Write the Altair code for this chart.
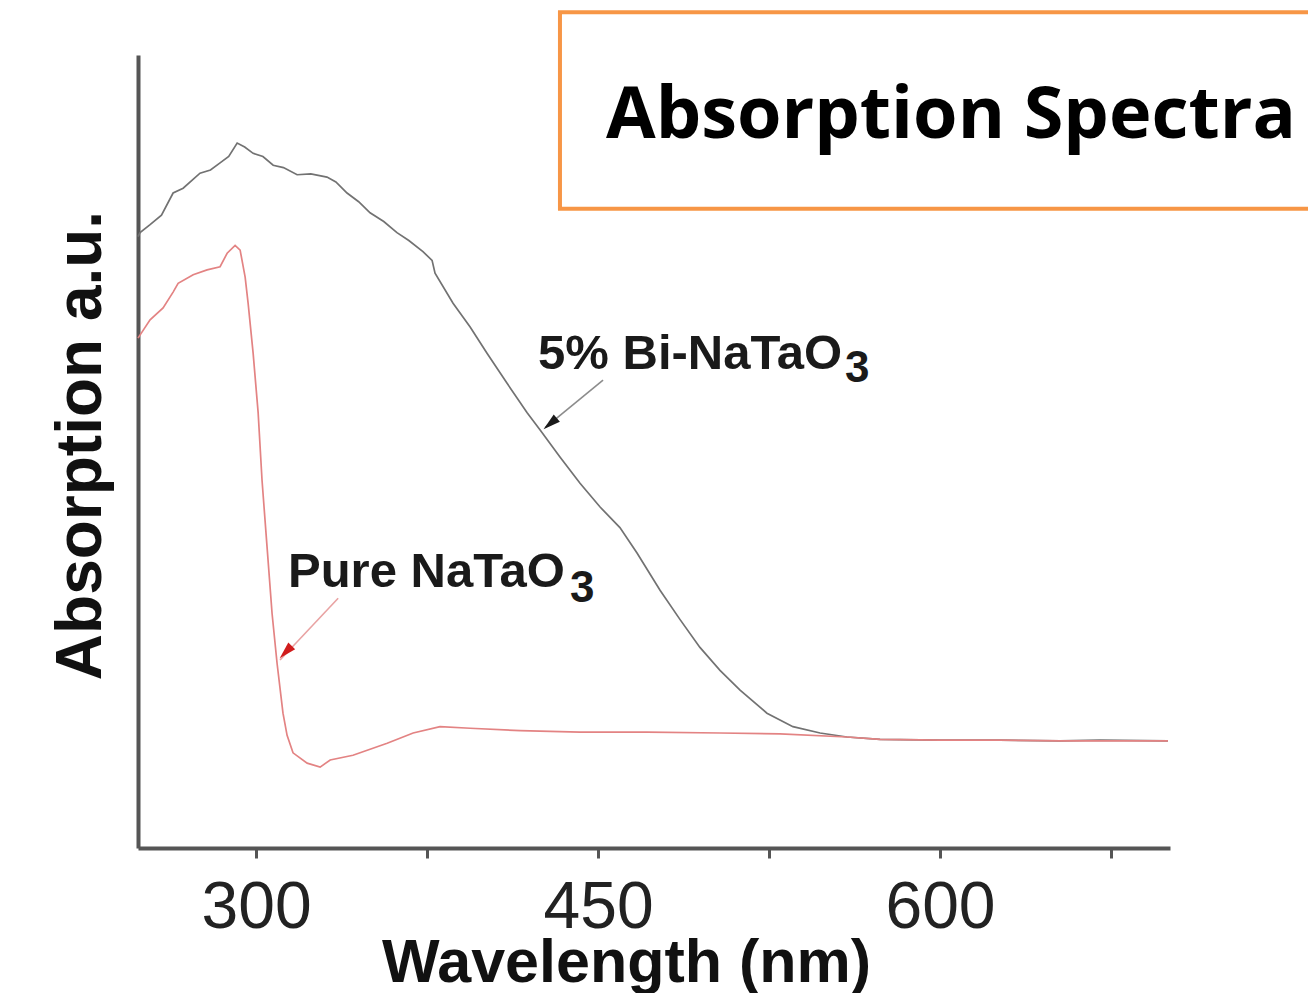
import altair as alt
import pandas as pd

# ---- data (wavelength in nm, absorption in a.u.) ----
bi_wavelength = [248.2, 249.1, 253.5, 258.5, 263.6, 268.0, 275.4, 280.0, 284.2, 288.0, 291.7,
                 295.0, 298.7, 303.0, 307.5, 312.0, 318.0, 324.0, 331.1, 335.0, 339.9, 345.0,
                 350.0, 356.0, 361.8, 367.0, 373.2, 377.2, 378.5, 386.4, 393.9, 401.3, 410.1,
                 418.9, 424.6, 433.3, 442.1, 450.9, 459.6, 467.1, 477.2, 486.0, 494.7, 503.5,
                 512.3, 524.1, 535.5, 547.4, 559.2, 573.7, 600.0, 626.3, 652.6, 670.2, 700.0]
bi_absorption = [0.771, 0.776, 0.786, 0.798, 0.826, 0.832, 0.851, 0.855, 0.864, 0.872, 0.889,
                 0.884, 0.876, 0.872, 0.861, 0.858, 0.849, 0.850, 0.846, 0.840, 0.826, 0.815,
                 0.801, 0.790, 0.776, 0.766, 0.752, 0.741, 0.725, 0.687, 0.657, 0.624, 0.586,
                 0.549, 0.527, 0.493, 0.460, 0.430, 0.404, 0.372, 0.325, 0.288, 0.253, 0.224,
                 0.199, 0.170, 0.153, 0.145, 0.140, 0.137, 0.136, 0.136, 0.135, 0.136, 0.135]

pure_wavelength = [248.2, 253.5, 259.2, 263.6, 265.8, 272.4, 278.5, 284.2, 287.3, 290.8, 293.0,
                   295.2, 296.5, 298.7, 300.9, 302.6, 304.8, 307.0, 309.2, 311.8, 313.6, 316.2,
                   322.4, 328.1, 332.5, 342.5, 357.5, 368.9, 380.7, 393.9, 415.8, 442.1, 471.5,
                   503.5, 529.8, 559.2, 573.7, 600.0, 626.3, 652.6, 700.0]
pure_absorption = [0.643, 0.666, 0.681, 0.701, 0.712, 0.723, 0.729, 0.733, 0.750, 0.760, 0.754,
                   0.720, 0.687, 0.624, 0.549, 0.464, 0.380, 0.296, 0.233, 0.170, 0.142, 0.120,
                   0.107, 0.102, 0.111, 0.117, 0.132, 0.145, 0.153, 0.151, 0.148, 0.146, 0.146,
                   0.145, 0.144, 0.140, 0.137, 0.136, 0.136, 0.135, 0.135]

x_ticks = [300, 375, 450, 525, 600, 675]

# annotations (data units)
label_text = ["5% Bi-NaTaO", "Pure NaTaO"]
label_x = [423.7, 314.0]
label_y = [0.604, 0.329]
sub_text = ["3", "3"]
sub_x = [558.3, 437.7]
sub_y = [0.588, 0.310]

arrow_x = [452.2, 336.0]
arrow_y = [0.590, 0.315]
arrow_x2 = [426.8, 310.5]
arrow_y2 = [0.530, 0.237]
arrow_color = ["#8c8c8c", "#e9a3a3"]
head_x = [429.0, 313.0]
head_y = [0.535, 0.247]
head_angle = [230, 224]
head_color = ["#1a1a1a", "#d01c1c"]

box_x = [433.3]
box_x2 = [780.0]
box_y = [1.054]
box_y2 = [0.806]
title_text = ["Absorption Spectra"]
title_x = [604.8]
title_y = [0.895]

# ---- tables ----
bi_df = pd.DataFrame({"x": bi_wavelength, "y": bi_absorption})
pure_df = pd.DataFrame({"x": pure_wavelength, "y": pure_absorption})
label_df = pd.DataFrame({"x": label_x, "y": label_y, "t": label_text})
sub_df = pd.DataFrame({"x": sub_x, "y": sub_y, "t": sub_text})
arrow_df = pd.DataFrame({"x": arrow_x, "y": arrow_y, "x2": arrow_x2, "y2": arrow_y2, "c": arrow_color})
head_df = pd.DataFrame({"x": head_x, "y": head_y, "a": head_angle, "c": head_color})
box_df = pd.DataFrame({"x": box_x, "x2": box_x2, "y": box_y, "y2": box_y2})
title_df = pd.DataFrame({"x": title_x, "y": title_y, "t": title_text})

x_scale = alt.Scale(domain=[248.2, 700.9], nice=False, zero=False)
y_scale = alt.Scale(domain=[0, 1], nice=False, zero=False)

x_axis = alt.Axis(
    values=x_ticks,
    labelExpr="datum.value % 150 == 0 ? datum.label : ''",
    format="d",
    labelFont="Liberation Sans", labelFontSize=66, labelColor="#222222",
    labelPadding=17, labelFlush=False, labelOverlap=False,
    tickSize=10, tickWidth=3, tickColor="#555555",
    domainColor="#555555", domainWidth=4, grid=False,
    title="Wavelength (nm)", titleFont="Liberation Sans", titleFontSize=61,
    titleFontWeight="bold", titleColor="#111111",
    titleBaseline="alphabetic", titleAlign="center", titleX=488, titleY=133,
)
y_axis = alt.Axis(
    ticks=False, labels=False, grid=False,
    domainColor="#555555", domainWidth=4,
    title="Absorption a.u.", titleFont="Liberation Sans", titleFontSize=64,
    titleFontWeight="bold", titleColor="#111111", titleAngle=270,
    titleBaseline="alphabetic", titleAlign="center", titleX=-38, titleY=390,
)

X = alt.X("x:Q", scale=x_scale, axis=x_axis)
Y = alt.Y("y:Q", scale=y_scale, axis=y_axis)

bi_line = alt.Chart(bi_df).mark_line(color="#727272", strokeWidth=1.7).encode(x=X, y=Y)
pure_line = alt.Chart(pure_df).mark_line(color="#e38383", strokeWidth=1.7).encode(x=X, y=Y)

arrows = alt.Chart(arrow_df).mark_rule(strokeWidth=1.6).encode(
    x=X, y=Y, x2="x2:Q", y2="y2:Q", color=alt.Color("c:N", scale=None)
)
heads = alt.Chart(head_df).mark_point(
    shape="M0,-1L0.55,1L-0.55,1Z", filled=True, size=300, opacity=1
).encode(x=X, y=Y, angle=alt.Angle("a:Q", scale=None), color=alt.Color("c:N", scale=None))

labels = alt.Chart(label_df).mark_text(
    align="left", baseline="alphabetic", font="Liberation Sans", fontSize=49,
    fontWeight="bold", color="#1a1a1a"
).encode(x=X, y=Y, text="t:N")
subs = alt.Chart(sub_df).mark_text(
    align="left", baseline="alphabetic", font="Liberation Sans", fontSize=44,
    fontWeight="bold", color="#1a1a1a"
).encode(x=X, y=Y, text="t:N")

box = alt.Chart(box_df).mark_rect(fill="white", stroke="#F79646", strokeWidth=4).encode(
    x=X, x2="x2:Q", y=Y, y2="y2:Q"
)
title = alt.Chart(title_df).mark_text(
    align="center", baseline="alphabetic", font="Open Sans", fontSize=72,
    fontWeight="bold", color="#000000"
).encode(x=X, y=Y, text="t:N")

chart = alt.layer(
    bi_line, pure_line, arrows, heads, labels, subs, box, title
).properties(
    width=1032, height=793,
    padding={"left": 130, "top": 47, "right": 138, "bottom": 145},
    autosize=alt.AutoSizeParams(type="none"),
).configure_view(stroke=None)

chart.save("out.html", embed_options={"renderer": "svg", "actions": False})
